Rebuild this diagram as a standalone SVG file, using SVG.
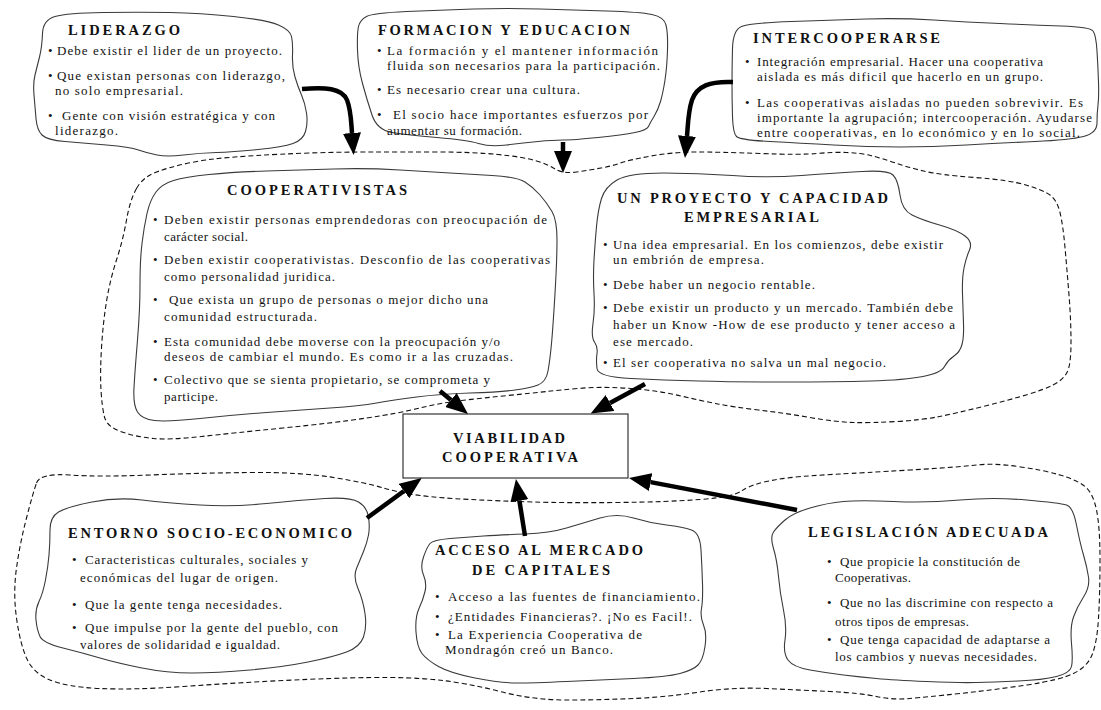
<svg xmlns="http://www.w3.org/2000/svg" width="1101" height="710" viewBox="0 0 1101 710">
  <style>
    .region { fill: none; stroke: #111; stroke-width: 1.1; stroke-dasharray: 5 3; }
    .blob { fill: #fff; stroke: #3a3a3a; stroke-width: 1.1; }
    .box { fill: #fff; stroke: #222; stroke-width: 1.1; }
    .t { font-family: "Liberation Serif", "Times New Roman", serif; font-size: 14.5px; font-weight: bold; fill: #111; }
    .x { font-family: "Liberation Serif", "Times New Roman", serif; font-size: 13px; fill: #111; }
    .arrow { fill: none; stroke: #000; stroke-width: 4.5; marker-end: url(#head); }
  </style>
  <defs>
    <marker id="head" markerUnits="userSpaceOnUse" markerWidth="22" markerHeight="18" viewBox="0 0 22 18" refX="0" refY="9" orient="auto">
      <path d="M0,0 L22,9 L0,18 Z" fill="#000"/>
    </marker>
  </defs>
  <rect width="1101" height="710" fill="#fff"/>

  <!-- dashed groupings -->
  <g id="regions">
    <path class="region" d="M136.5,188.5 Q143,177 156.5,172 Q170,167 186.5,163.5 Q203,160 218,158.5 Q233,157 256.5,155.5 Q280,154 310,153 Q340,152 370,152 Q400,152 436.5,152 Q473,152 498,154.5 Q523,157 535,160.5 Q547,164 555,169 Q563,174 576.5,172 Q590,170 601,168 Q612,166 620.5,163 Q629,160 651,156 Q673,152 696.5,152 Q720,152 760,153.5 Q800,155 816.5,153.5 Q833,152 846.5,152.5 Q860,153 870.5,155.5 Q881,158 894,162.5 Q907,167 923.5,171 Q940,175 974.5,177.5 Q1009,180 1026,185 Q1043,190 1050,195 Q1057,200 1060,212.5 Q1063,225 1065,247.5 Q1067,270 1069,295 Q1071,320 1071,342.5 Q1071,365 1067,372.5 Q1063,380 1053,385 Q1043,390 1026,395 Q1009,400 983,406.5 Q957,413 939.5,416.5 Q922,420 896.5,421.5 Q871,423 853.5,422.5 Q836,422 810,417.5 Q784,413 758.5,410 Q733,407 715.5,403.5 Q698,400 681,396 Q664,392 646.5,390 Q629,388 612,387.5 Q595,387 577.5,388.5 Q560,390 546.5,391.5 Q533,393 508,395.5 Q483,398 461.5,400.5 Q440,403 420,408 Q400,413 366.5,418 Q333,423 283,428 Q233,433 201.5,436.5 Q170,440 153.5,438.5 Q137,437 122,432 Q107,427 104.5,417 Q102,407 101,390 Q100,373 101.5,348 Q103,323 106.5,301.5 Q110,280 116.5,260 Q123,240 126.5,220 Q130,200 136.5,188.5 Z"/>
    <path class="region" d="M36.5,483 Q40,473 70,475 Q100,477 150,475 Q200,473 250,472.5 Q300,472 333.5,477.5 Q367,483 383.5,488 Q400,493 420,495.5 Q440,498 470,499.5 Q500,501 533.5,502 Q567,503 617,502.5 Q667,502 700,499.5 Q733,497 741.5,491 Q750,485 766.5,481.5 Q783,478 801.5,476.5 Q820,475 840,474 Q860,473 910,470 Q960,467 976.5,465 Q993,463 1018,466.5 Q1043,470 1060,475 Q1077,480 1085,486.5 Q1093,493 1096.5,510 Q1100,527 1100,560 Q1100,593 1098.5,618 Q1097,643 1092,655 Q1087,667 1073.5,673.5 Q1060,680 1026.5,685 Q993,690 960,693.5 Q927,697 910,698.5 Q893,700 876.5,696.5 Q860,693 830,691.5 Q800,690 766.5,688.5 Q733,687 700,692 Q667,697 633.5,698.5 Q600,700 566.5,700 Q533,700 500,691.5 Q467,683 438.5,680 Q410,677 371.5,677.5 Q333,678 283,680.5 Q233,683 183,686.5 Q133,690 100,688.5 Q67,687 50,680 Q33,673 26.5,658 Q20,643 16.5,618 Q13,593 16.5,568 Q20,543 26.5,518 Q33,493 36.5,483 Z"/>
  </g>

  <g id="liderazgo">
    <path class="blob" d="M42.5,33.5 Q43,20 55,16.5 Q67,13 103.5,12.5 Q140,12 170,12.5 Q200,13 233.5,16.5 Q267,20 278.5,25 Q290,30 291.5,36.5 Q293,43 292.5,55 Q292,67 295,77 Q298,87 301.5,95 Q305,103 306.5,113 Q308,123 305.5,131.5 Q303,140 293,143.5 Q283,147 258,149.5 Q233,152 216.5,152.5 Q200,153 183.5,155 Q167,157 157,155 Q147,153 138.5,150 Q130,147 106.5,145 Q83,143 65,141.5 Q47,140 42,135 Q37,130 36,118.5 Q35,107 34,95 Q33,83 35,75 Q37,67 39.5,57 Q42,47 42.5,33.5 Z"/>
    <text class="t" x="68" y="35" textLength="112" lengthAdjust="spacing">LIDERAZGO</text>
    <text class="x" x="48" y="55">•</text>
    <text class="x" x="57" y="55" textLength="225" lengthAdjust="spacing">Debe existir el lider de un proyecto.</text>
    <text class="x" x="48" y="80">•</text>
    <text class="x" x="57" y="80" textLength="228" lengthAdjust="spacing">Que existan personas con liderazgo,</text>
    <text class="x" x="55" y="95" textLength="128" lengthAdjust="spacing">no solo empresarial.</text>
    <text class="x" x="48" y="120">•</text>
    <text class="x" x="62" y="120" textLength="213" lengthAdjust="spacing">Gente con visión estratégica y con</text>
    <text class="x" x="55" y="135" textLength="63" lengthAdjust="spacing">liderazgo.</text>
  </g>

  <g id="formacion">
    <path class="blob" d="M358.5,26.5 Q360,20 366.5,16.5 Q373,13 406.5,11.5 Q440,10 473.5,9 Q507,8 540,9 Q573,10 606.5,11 Q640,12 652,14.5 Q664,17 666,25 Q668,33 667.5,50 Q667,67 665,80 Q663,93 660.5,101.5 Q658,110 654,116.5 Q650,123 648.5,126.5 Q647,130 635,132.5 Q623,135 598,137.5 Q573,140 563,140 Q553,140 538,141.5 Q523,143 506.5,145 Q490,147 478.5,143.5 Q467,140 437,137.5 Q407,135 392,132.5 Q377,130 372,115 Q367,100 362.5,83.5 Q358,67 357.5,50 Q357,33 358.5,26.5 Z"/>
    <text class="t" x="378" y="35" textLength="252" lengthAdjust="spacing">FORMACION Y EDUCACION</text>
    <text class="x" x="377" y="55">•</text>
    <text class="x" x="387" y="55" textLength="271" lengthAdjust="spacing">La formación y el mantener información</text>
    <text class="x" x="387" y="70" textLength="273" lengthAdjust="spacing">fluida son necesarios para la participación.</text>
    <text class="x" x="377" y="94">•</text>
    <text class="x" x="387" y="94" textLength="193" lengthAdjust="spacing">Es necesario crear una cultura.</text>
    <text class="x" x="377" y="119">•</text>
    <text class="x" x="393" y="119" textLength="255" lengthAdjust="spacing">El socio hace importantes esfuerzos por</text>
    <text class="x" x="387" y="135" textLength="135" lengthAdjust="spacing">aumentar su formación.</text>
  </g>

  <g id="intercooperarse">
    <path class="blob" d="M732.5,48.5 Q733,30 741.5,26.5 Q750,23 791.5,21.5 Q833,20 866.5,19 Q900,18 933.5,20 Q967,22 1000,23.5 Q1033,25 1061.5,26 Q1090,27 1093,31 Q1096,35 1097,51 Q1098,67 1098.5,82 Q1099,97 1098,105 Q1097,113 1097,123 Q1097,133 1083.5,136.5 Q1070,140 1035,141.5 Q1000,143 966.5,145 Q933,147 900,147 Q867,147 833.5,145 Q800,143 770,141.5 Q740,140 736.5,136.5 Q733,133 732.5,116.5 Q732,100 732,83.5 Q732,67 732.5,48.5 Z"/>
    <text class="t" x="753" y="43" textLength="187" lengthAdjust="spacing">INTERCOOPERARSE</text>
    <text class="x" x="745" y="66">•</text>
    <text class="x" x="757" y="66" textLength="286" lengthAdjust="spacing">Integración empresarial. Hacer una cooperativa</text>
    <text class="x" x="757" y="81" textLength="286" lengthAdjust="spacing">aislada es más dificil que hacerlo en un grupo.</text>
    <text class="x" x="745" y="107">•</text>
    <text class="x" x="757" y="107" textLength="326" lengthAdjust="spacing">Las cooperativas aisladas no pueden sobrevivir. Es</text>
    <text class="x" x="757" y="122" textLength="335" lengthAdjust="spacing">importante la agrupación; intercooperación. Ayudarse</text>
    <text class="x" x="757" y="137" textLength="323" lengthAdjust="spacing">entre cooperativas, en lo económico y en lo social.</text>
  </g>

  <g id="cooperativistas">
    <path class="blob" d="M147,213.5 Q150,200 156,192 Q162,184 173.5,180.5 Q185,177 209,174.5 Q233,172 266.5,171 Q300,170 333.5,169 Q367,168 400,170 Q433,172 450,173 Q467,174 492,175.5 Q517,177 525,182 Q533,187 540,195 Q547,203 552,211.5 Q557,220 557,240 Q557,260 555,293.5 Q553,327 551.5,343.5 Q550,360 548,371 Q546,382 538,385 Q530,388 515,390 Q500,392 470,393 Q440,394 416.5,397 Q393,400 376.5,403 Q360,406 330,408 Q300,410 266.5,412.5 Q233,415 200,418.5 Q167,422 154.5,420.5 Q142,419 137.5,412 Q133,405 134,387.5 Q135,370 137.5,340 Q140,310 140,285 Q140,260 142,243.5 Q144,227 147,213.5 Z"/>
    <text class="t" x="227" y="195" textLength="180" lengthAdjust="spacing">COOPERATIVISTAS</text>
    <text class="x" x="153" y="224">•</text>
    <text class="x" x="164" y="224" textLength="383" lengthAdjust="spacing">Deben existir personas emprendedoras con preocupación de</text>
    <text class="x" x="164" y="241" textLength="84" lengthAdjust="spacing">carácter social.</text>
    <text class="x" x="153" y="264">•</text>
    <text class="x" x="164" y="264" textLength="386" lengthAdjust="spacing">Deben existir cooperativistas. Desconfio de las cooperativas</text>
    <text class="x" x="164" y="281" textLength="171" lengthAdjust="spacing">como personalidad juridica.</text>
    <text class="x" x="153" y="304">•</text>
    <text class="x" x="169" y="304" textLength="319" lengthAdjust="spacing">Que exista un grupo de personas o mejor dicho una</text>
    <text class="x" x="164" y="321" textLength="153" lengthAdjust="spacing">comunidad estructurada.</text>
    <text class="x" x="153" y="346">•</text>
    <text class="x" x="164" y="346" textLength="336" lengthAdjust="spacing">Esta comunidad debe moverse con la preocupación y/o</text>
    <text class="x" x="164" y="361" textLength="349" lengthAdjust="spacing">deseos de cambiar el mundo. Es como ir a las cruzadas.</text>
    <text class="x" x="153" y="384">•</text>
    <text class="x" x="164" y="384" textLength="326" lengthAdjust="spacing">Colectivo que se sienta propietario, se comprometa y</text>
    <text class="x" x="164" y="401" textLength="54" lengthAdjust="spacing">participe.</text>
  </g>

  <g id="proyecto">
    <path class="blob" d="M601.5,198.5 Q605,187 617,180 Q629,173 663.5,173 Q698,173 732.5,175.5 Q767,178 801.5,175.5 Q836,173 862,171.5 Q888,170 893,175 Q898,180 900,195 Q902,210 912,215 Q922,220 939.5,225 Q957,230 965,236 Q973,242 969.5,250 Q966,258 964,268 Q962,278 962.5,294 Q963,310 963.5,323.5 Q964,337 962,344.5 Q960,352 954,356 Q948,360 944.5,366.5 Q941,373 923,376.5 Q905,380 870.5,381 Q836,382 784.5,382 Q733,382 698.5,381 Q664,380 631,378.5 Q598,377 597,368.5 Q596,360 597,353.5 Q598,347 594.5,342 Q591,337 593,323.5 Q595,310 594,293.5 Q593,277 594,260 Q595,243 596.5,226.5 Q598,210 601.5,198.5 Z"/>
    <text class="t" x="617" y="203" textLength="271" lengthAdjust="spacing">UN PROYECTO Y CAPACIDAD</text>
    <text class="t" x="684" y="222" textLength="135" lengthAdjust="spacing">EMPRESARIAL</text>
    <text class="x" x="603" y="249">•</text>
    <text class="x" x="613" y="249" textLength="330" lengthAdjust="spacing">Una idea empresarial. En los comienzos, debe existir</text>
    <text class="x" x="613" y="264" textLength="151" lengthAdjust="spacing">un embrión de empresa.</text>
    <text class="x" x="603" y="289">•</text>
    <text class="x" x="613" y="289" textLength="202" lengthAdjust="spacing">Debe haber un negocio rentable.</text>
    <text class="x" x="603" y="312">•</text>
    <text class="x" x="613" y="312" textLength="340" lengthAdjust="spacing">Debe existir un producto y un mercado. También debe</text>
    <text class="x" x="613" y="329" textLength="342" lengthAdjust="spacing">haber un Know -How de ese producto y tener acceso a</text>
    <text class="x" x="613" y="346" textLength="80" lengthAdjust="spacing">ese mercado.</text>
    <text class="x" x="603" y="367">•</text>
    <text class="x" x="613" y="367" textLength="273" lengthAdjust="spacing">El ser cooperativa no salva un mal negocio.</text>
  </g>

  <g id="entorno">
    <path class="blob" d="M50,530 Q50,517 58.5,512 Q67,507 92,502 Q117,497 142,500 Q167,503 200,505 Q233,507 266.5,503.5 Q300,500 325,498.5 Q350,497 358.5,502 Q367,507 368.5,517 Q370,527 368.5,535 Q367,543 363.5,551.5 Q360,560 356.5,568.5 Q353,577 358,588.5 Q363,600 365,613.5 Q367,627 363.5,637 Q360,647 346.5,652 Q333,657 308,662 Q283,667 250,670 Q217,673 192,673 Q167,673 142,668 Q117,663 100,658 Q83,653 63,648 Q43,643 40,636.5 Q37,630 36,620 Q35,610 39,601.5 Q43,593 45.5,580 Q48,567 49,555 Q50,543 50,530 Z"/>
    <text class="t" x="68" y="538" textLength="284" lengthAdjust="spacing">ENTORNO SOCIO-ECONOMICO</text>
    <text class="x" x="72" y="564">•</text>
    <text class="x" x="85" y="564" textLength="223" lengthAdjust="spacing">Caracteristicas culturales, sociales y</text>
    <text class="x" x="80" y="582" textLength="198" lengthAdjust="spacing">económicas del lugar de origen.</text>
    <text class="x" x="72" y="609">•</text>
    <text class="x" x="85" y="609" textLength="197" lengthAdjust="spacing">Que la gente tenga necesidades.</text>
    <text class="x" x="72" y="632">•</text>
    <text class="x" x="85" y="632" textLength="253" lengthAdjust="spacing">Que impulse por la gente del pueblo, con</text>
    <text class="x" x="80" y="649" textLength="200" lengthAdjust="spacing">valores de solidaridad e igualdad.</text>
  </g>

  <g id="acceso">
    <path class="blob" d="M423.5,557 Q427,547 430,543.5 Q433,540 450,538.5 Q467,537 483.5,536 Q500,535 525,534 Q550,533 566.5,528 Q583,523 600,518 Q617,513 633.5,518 Q650,523 666.5,525 Q683,527 691.5,530 Q700,533 701,550 Q702,567 702.5,583.5 Q703,600 701.5,608.5 Q700,617 703.5,625 Q707,633 705,646.5 Q703,660 698,665 Q693,670 680,673.5 Q667,677 633.5,678.5 Q600,680 566.5,681.5 Q533,683 516.5,683 Q500,683 475,678 Q450,673 438.5,666.5 Q427,660 422,653.5 Q417,647 416,632 Q415,617 419,608.5 Q423,600 425,591.5 Q427,583 423.5,575 Q420,567 423.5,557 Z"/>
    <text class="t" x="435" y="555" textLength="208" lengthAdjust="spacing">ACCESO AL MERCADO</text>
    <text class="t" x="472" y="575" textLength="138" lengthAdjust="spacing">DE CAPITALES</text>
    <text class="x" x="435" y="601">•</text>
    <text class="x" x="448" y="601" textLength="252" lengthAdjust="spacing">Acceso a las fuentes de financiamiento.</text>
    <text class="x" x="435" y="621">•</text>
    <text class="x" x="448" y="621" textLength="244" lengthAdjust="spacing">¿Entidades Financieras?. ¡No es Facil!.</text>
    <text class="x" x="435" y="639">•</text>
    <text class="x" x="448" y="639" textLength="194" lengthAdjust="spacing">La Experiencia Cooperativa de</text>
    <text class="x" x="445" y="654" textLength="168" lengthAdjust="spacing">Mondragón creó un Banco.</text>
  </g>

  <g id="legislacion">
    <path class="blob" d="M773.5,532 Q777,527 785,520 Q793,513 810,508 Q827,503 843.5,501.5 Q860,500 893.5,501.5 Q927,503 960,500 Q993,497 1026.5,500 Q1060,503 1066.5,505 Q1073,507 1076.5,525 Q1080,543 1083.5,555 Q1087,567 1088.5,577 Q1090,587 1083.5,597 Q1077,607 1073.5,617 Q1070,627 1071.5,643.5 Q1073,660 1071.5,666.5 Q1070,673 1056.5,676.5 Q1043,680 1018,681 Q993,682 976.5,682.5 Q960,683 926.5,681.5 Q893,680 876.5,678.5 Q860,677 843.5,675 Q827,673 810,670 Q793,667 788,660 Q783,653 785,640 Q787,627 783.5,610 Q780,593 778.5,576.5 Q777,560 773.5,548.5 Q770,537 773.5,532 Z"/>
    <text class="t" x="808" y="537" textLength="240" lengthAdjust="spacing">LEGISLACIÓN ADECUADA</text>
    <text class="x" x="827" y="566">•</text>
    <text class="x" x="840" y="566" textLength="180" lengthAdjust="spacing">Que propicie la constitución de</text>
    <text class="x" x="835" y="582" textLength="76" lengthAdjust="spacing">Cooperativas.</text>
    <text class="x" x="827" y="607">•</text>
    <text class="x" x="840" y="607" textLength="213" lengthAdjust="spacing">Que no las discrimine con respecto a</text>
    <text class="x" x="835" y="626" textLength="134" lengthAdjust="spacing">otros tipos de empresas.</text>
    <text class="x" x="827" y="644">•</text>
    <text class="x" x="840" y="644" textLength="210" lengthAdjust="spacing">Que tenga capacidad de adaptarse a</text>
    <text class="x" x="835" y="661" textLength="202" lengthAdjust="spacing">los cambios y nuevas necesidades.</text>
  </g>

  <g id="viabilidad">
    <rect class="box" x="403" y="414" width="225" height="64"/>
    <text class="t" x="453" y="443" textLength="112" lengthAdjust="spacing">VIABILIDAD</text>
    <text class="t" x="442" y="462" textLength="136" lengthAdjust="spacing">COOPERATIVA</text>
  </g>

  <!-- connectors -->
  <g id="connectors">
    <path class="arrow" d="M302,89 C325,87 342,88 347,100 C351,110 351,120 352,133"/>
    <path class="arrow" d="M563,142 L563,151"/>
    <path class="arrow" d="M733,82 C710,81 697,86 692,100 C688,112 688,125 687,136"/>
    <path class="arrow" d="M440,391 L451,400"/>
    <path class="arrow" d="M645,384 L610,403"/>
    <path class="arrow" d="M367,518 L404,491"/>
    <path class="arrow" d="M525,536 L519.4,500.7"/>
    <path class="arrow" d="M797,510 L650.6,482.1"/>
  </g>
</svg>
